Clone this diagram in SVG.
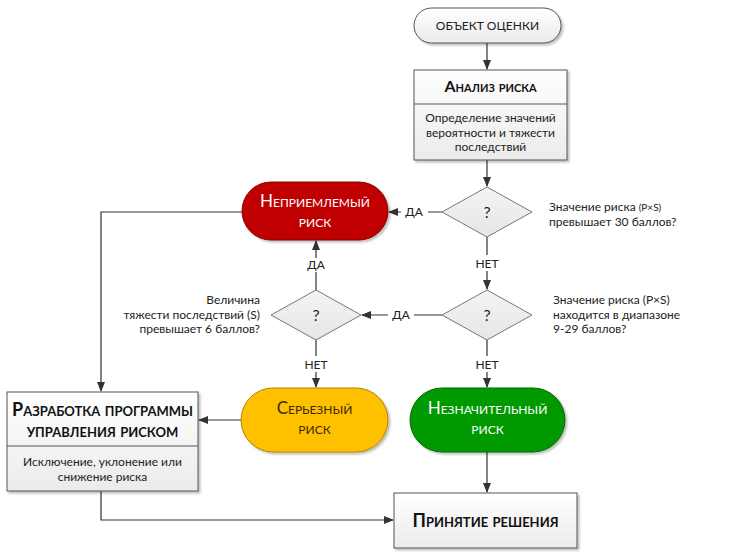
<svg xmlns="http://www.w3.org/2000/svg" width="744" height="558" viewBox="0 0 744 558">
<defs>
<linearGradient id="gbox" x1="0" y1="0" x2="0" y2="1"><stop offset="0" stop-color="#ffffff"/><stop offset="1" stop-color="#ebebeb"/></linearGradient>
<linearGradient id="gdia" x1="0" y1="0" x2="0" y2="1"><stop offset="0" stop-color="#f4f4f4"/><stop offset="1" stop-color="#e6e6e6"/></linearGradient>
<marker id="ah" markerWidth="10" markerHeight="8" refX="9" refY="4" orient="auto" markerUnits="userSpaceOnUse"><path d="M0,0 L10,4 L0,8 z" fill="#333"/></marker>
<filter id="sh" x="-10%" y="-10%" width="130%" height="130%"><feDropShadow dx="2" dy="2" stdDeviation="1.2" flood-color="#000" flood-opacity="0.25"/></filter>
</defs>
<style>
text{font-family:Lato,"Open Sans","DejaVu Sans",sans-serif;fill:#222}
.t{font-size:12px}
.c{text-anchor:middle}
.r{text-anchor:end}
.h{font-weight:bold;font-variant:small-caps;font-size:16px;fill:#111}
.hb{font-size:18px}
.sc{font-variant:small-caps;font-size:17px}
.box{fill:url(#gbox);stroke:#555;stroke-width:1;filter:url(#sh)}
.dia{fill:url(#gdia);stroke:#777;stroke-width:1}
.ln{fill:none;stroke:#333;stroke-width:1.2}
.q{font-size:16px}
.lbl{font-size:12px}
</style>

<g id="connectors">
<path class="ln" d="M487,43 V69" marker-end="url(#ah)"/>
<path class="ln" d="M487,160 V186" marker-end="url(#ah)"/>
<path class="ln" d="M442,212 H428 M401,212 H389" marker-end="url(#ah)"/>
<path class="ln" d="M242,212 H101 V391" marker-end="url(#ah)"/>
<path class="ln" d="M487,237 V255 M487,271 V289" marker-end="url(#ah)"/>
<path class="ln" d="M442,315 H414 M388,315 H362" marker-end="url(#ah)"/>
<path class="ln" d="M316,290 V272 M316,258 V241" marker-end="url(#ah)"/>
<path class="ln" d="M316,340 V356 M316,372 V387" marker-end="url(#ah)"/>
<path class="ln" d="M487,340 V356 M487,372 V387" marker-end="url(#ah)"/>
<path class="ln" d="M241,420 H199" marker-end="url(#ah)"/>
<path class="ln" d="M101,491 V520 H393" marker-end="url(#ah)"/>
<path class="ln" d="M487,452 V492" marker-end="url(#ah)"/>
<text class="lbl c" x="414" y="216">ДА</text>
<text class="lbl c" x="401" y="319">ДА</text>
<text class="lbl c" x="316" y="269">ДА</text>
<text class="lbl c" x="487" y="268">НЕТ</text>
<text class="lbl c" x="487" y="369">НЕТ</text>
<text class="lbl c" x="316" y="369">НЕТ</text>
</g>

<g id="start">
<rect x="414" y="8" width="147" height="35" rx="17.5" class="box"/>
<text class="t c" x="487.5" y="30">ОБЪЕКТ ОЦЕНКИ</text>
</g>

<g id="analysis">
<rect x="414" y="70" width="153" height="90" class="box"/>
<line x1="414" y1="104" x2="567" y2="104" stroke="#555"/>
<text class="h c" x="490.5" y="92">Анализ риска</text>
<text class="t c" x="490.5" y="122">Определение значений</text>
<text class="t c" x="490.5" y="136.5">вероятности и тяжести</text>
<text class="t c" x="490.5" y="151">последствий</text>
</g>

<g id="d1">
<polygon class="dia" points="487,187 532,212 487,237 442,212"/>
<text class="q c" x="487" y="218">?</text>
<text class="t" x="549" y="211">Значение риска <tspan font-size="10">(P×S)</tspan></text>
<text class="t" x="549" y="225.5">превышает 30 баллов?</text>
</g>

<g id="unacceptable">
<rect x="242" y="182" width="146" height="58" rx="29" fill="#c00000" stroke="#8a0000" stroke-width="1" filter="url(#sh)"/>
<text class="sc c" x="315" y="207" style="fill:#fff">Неприемлемый</text>
<text class="sc c" x="315" y="227" style="fill:#fff">риск</text>
</g>

<g id="d2">
<polygon class="dia" points="487,290 532,315 487,340 442,315"/>
<text class="q c" x="487" y="321">?</text>
<text class="t" x="553" y="304">Значение риска (P×S)</text>
<text class="t" x="553" y="318.5">находится в диапазоне</text>
<text class="t" x="553" y="333">9-29 баллов?</text>
</g>

<g id="d3">
<polygon class="dia" points="316,290 361,315 316,340 271,315"/>
<text class="q c" x="316" y="321">?</text>
<text class="t r" x="260" y="304">Величина</text>
<text class="t r" x="260" y="318.5">тяжести последствий (S)</text>
<text class="t r" x="260" y="333">превышает 6 баллов?</text>
</g>

<g id="serious">
<rect x="241" y="388" width="147" height="64" rx="32" fill="#ffc000" stroke="#b08400" stroke-width="1" filter="url(#sh)"/>
<text class="sc c" x="314.5" y="414" style="fill:#3a2a00">Серьезный</text>
<text class="sc c" x="314.5" y="434" style="fill:#3a2a00">риск</text>
</g>

<g id="minor">
<rect x="410" y="388" width="155" height="64" rx="32" fill="#009a00" stroke="#006a00" stroke-width="1" filter="url(#sh)"/>
<text class="sc c" x="487.5" y="414" style="fill:#fff">Незначительный</text>
<text class="sc c" x="487.5" y="434" style="fill:#fff">риск</text>
</g>

<g id="program">
<rect x="7" y="392" width="191" height="99" class="box"/>
<line x1="7" y1="446" x2="198" y2="446" stroke="#555"/>
<text class="h hb c" x="102.5" y="416">Разработка программы</text>
<text class="h hb c" x="102.5" y="437">управления риском</text>
<text class="t c" x="102.5" y="466">Исключение, уклонение или</text>
<text class="t c" x="102.5" y="481">снижение риска</text>
</g>

<g id="decision">
<rect x="394" y="493" width="183" height="55" class="box"/>
<text class="h hb c" x="485.5" y="527">Принятие решения</text>
</g>
</svg>
